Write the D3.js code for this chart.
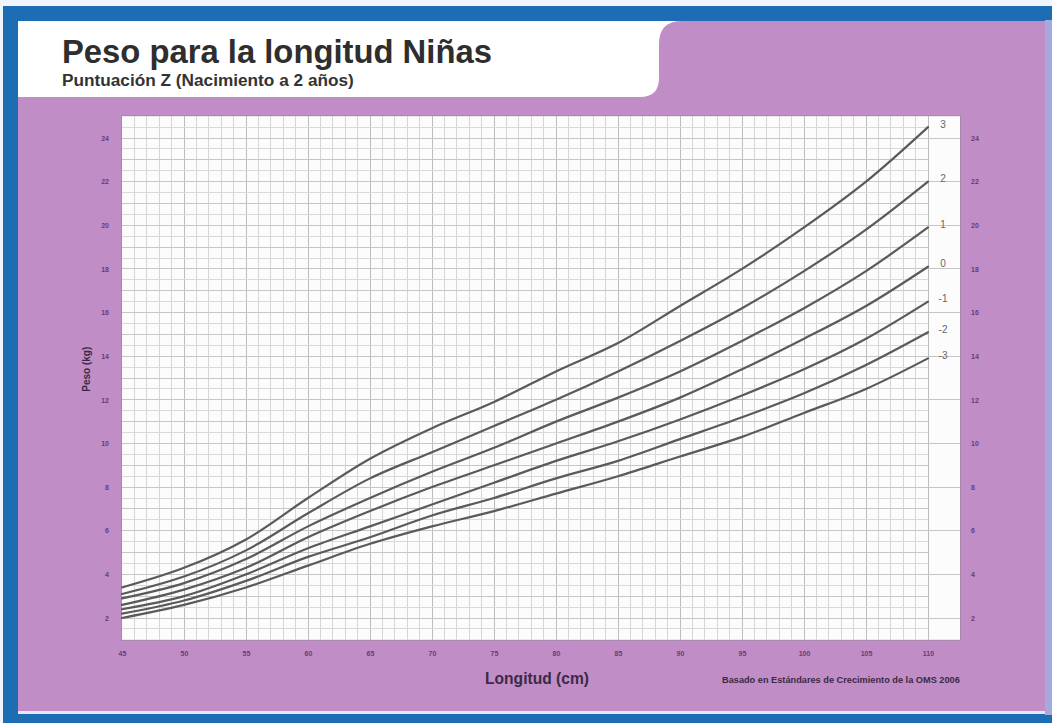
<!DOCTYPE html>
<html lang="es">
<head>
<meta charset="utf-8">
<title>Peso para la longitud Niñas</title>
<script src="https://cdn.jsdelivr.net/npm/d3@7"></script>
<style>
  html, body { margin: 0; padding: 0; background: #ffffff; }
  svg { display: block; }
  text { font-family: "Liberation Sans", Arial, sans-serif; }
</style>
</head>
<body>
<svg id="chart" width="1052" height="723"></svg>
<script>
// Longitud (cm) at which each curve is sampled
const lengths = [45, 50, 55, 60, 65, 70, 75, 80, 85, 90, 95, 100, 105, 110];

// Peso (kg) for each Z-score curve at the lengths above
const zPlus3  = [3.4, 4.3, 5.6, 7.5, 9.3, 10.7, 11.9, 13.3, 14.6, 16.3, 18.0, 19.9, 22.0, 24.5];
const zPlus2  = [3.1, 3.9, 5.1, 6.8, 8.4, 9.6, 10.8, 12.0, 13.3, 14.7, 16.2, 17.9, 19.8, 22.0];
const zPlus1  = [2.9, 3.6, 4.7, 6.2, 7.5, 8.7, 9.8, 11.0, 12.1, 13.3, 14.7, 16.2, 17.9, 19.9];
const zZero   = [2.6, 3.3, 4.3, 5.7, 6.9, 8.0, 9.0, 10.0, 11.0, 12.1, 13.4, 14.8, 16.3, 18.1];
const zMinus1 = [2.4, 3.0, 4.0, 5.2, 6.2, 7.2, 8.2, 9.2, 10.1, 11.1, 12.2, 13.4, 14.8, 16.5];
const zMinus2 = [2.2, 2.8, 3.7, 4.8, 5.7, 6.7, 7.5, 8.4, 9.2, 10.2, 11.2, 12.3, 13.6, 15.1];
const zMinus3 = [2.0, 2.6, 3.4, 4.4, 5.4, 6.2, 6.9, 7.7, 8.5, 9.4, 10.3, 11.4, 12.5, 13.9];

const curveLabels = ["3", "2", "1", "0", "-1", "-2", "-3"];
const curveValues = [zPlus3, zPlus2, zPlus1, zZero, zMinus1, zMinus2, zMinus3];

// Axis tick labels
const xTicks = [45, 50, 55, 60, 65, 70, 75, 80, 85, 90, 95, 100, 105, 110];
const yTicks = [2, 4, 6, 8, 10, 12, 14, 16, 18, 20, 22, 24];

const titleText = "Peso para la longitud Niñas";
const subtitleText = "Puntuación Z (Nacimiento a 2 años)";
const xTitle = "Longitud (cm)";
const yTitle = "Peso (kg)";
const sourceText = "Basado en Estándares de Crecimiento de la OMS 2006";

const W = 1052, H = 723;
const purple = "#c08dc6";
const blue = "#1c6db3";
const tickInk = "#6b3b78";

const svg = d3.select("#chart");

const x = d3.scaleLinear().domain([45, 110]).range([122, 928]);
const y = d3.scaleLinear().domain([2, 24]).range([618, 138]);
const plotRight = 960;

// ---- frame ----
svg.append("rect").attr("x", 0).attr("y", 0).attr("width", W).attr("height", H).attr("fill", "#eef6fb");
svg.append("rect").attr("x", 3).attr("y", 6).attr("width", W - 3).attr("height", H - 6).attr("fill", blue);
svg.append("rect").attr("x", 1045).attr("y", 20).attr("width", 7).attr("height", 695).attr("fill", "#a7a9dc");
svg.append("rect").attr("x", 18).attr("y", 21).attr("width", 1027).attr("height", 692).attr("fill", purple);
svg.append("rect").attr("x", 18).attr("y", 711).attr("width", 1027).attr("height", 3).attr("fill", "#e9e4f3");

// header panel with rounded tab corners
svg.append("path")
  .attr("d", "M18,21 H682 Q659,21 659,44 V78 Q659,97 640,97 H18 Z")
  .attr("fill", "#ffffff");

// ---- titles ----
function fitText(sel, width) {
  const len = sel.node().getComputedTextLength();
  const fs = parseFloat(sel.attr("font-size"));
  sel.attr("font-size", (fs * width / len).toFixed(2));
}
const t1 = svg.append("text").attr("x", 62).attr("y", 63)
  .attr("font-size", 28).attr("font-weight", "bold").attr("fill", "#2e2e2e").text(titleText);
fitText(t1, 430);
const t2 = svg.append("text").attr("x", 62).attr("y", 86)
  .attr("font-size", 12).attr("font-weight", "bold").attr("fill", "#333").text(subtitleText);
fitText(t2, 292);

// ---- plot panel ----
svg.append("rect").attr("x", x(45) - 1).attr("y", y(25) - 1)
  .attr("width", plotRight - x(45) + 2).attr("height", y(1) - y(25) + 2)
  .attr("fill", "#a788a8");
svg.append("rect").attr("x", x(45)).attr("y", y(25))
  .attr("width", plotRight - x(45)).attr("height", y(1) - y(25))
  .attr("fill", "#fdfcfd");

const grid = svg.append("g").attr("shape-rendering", "crispEdges");
// vertical grid, one line per cm
grid.selectAll("line.v").data(d3.range(46, 111))
  .join("line")
  .attr("x1", d => x(d)).attr("x2", d => x(d))
  .attr("y1", y(25)).attr("y2", y(1))
  .attr("stroke", d => d % 5 === 0 ? "#bdbdbd" : "#d6d6d6")
  .attr("stroke-width", 1);
// horizontal grid, one line per 0.5 kg; even kg lines run to the panel edge
grid.selectAll("line.h").data(d3.range(1.5, 25, 0.5))
  .join("line")
  .attr("x1", x(45))
  .attr("x2", d => (d % 2 === 0) ? plotRight : x(110))
  .attr("y1", d => y(d)).attr("y2", d => y(d))
  .attr("stroke", d => d % 1 === 0 ? "#c6c6c6" : "#d9d9d9")
  .attr("stroke-width", 1);

// ---- curves ----
const line = d3.line()
  .x((d, i) => x(lengths[i]))
  .y(d => y(d))
  .curve(d3.curveCatmullRom.alpha(0.5));

svg.append("g").selectAll("path").data(curveValues)
  .join("path")
  .attr("d", d => line(d))
  .attr("fill", "none")
  .attr("stroke", "#5a5a5a")
  .attr("stroke-width", 2.2)
  .attr("stroke-linecap", "round");

svg.append("g").selectAll("text").data(curveValues)
  .join("text")
  .attr("x", x(110) + 15)
  .attr("y", d => y(d[d.length - 1]) - 3)
  .attr("dy", "0.35em")
  .attr("text-anchor", "middle")
  .attr("font-size", 10)
  .attr("fill", "#666")
  .text((d, i) => curveLabels[i]);

// ---- axes ----
function styleAxis(g) {
  g.select(".domain").remove();
  g.selectAll(".tick line").remove();
  g.selectAll("text")
    .attr("font-size", 7)
    .attr("font-weight", "bold")
    .attr("font-family", "'Liberation Sans', Arial, sans-serif")
    .attr("fill", tickInk);
}
svg.append("g").attr("transform", "translate(111,0)")
  .call(d3.axisLeft(y).tickValues(yTicks).tickSize(0).tickPadding(2))
  .call(styleAxis);
svg.append("g").attr("transform", "translate(970,0)")
  .call(d3.axisRight(y).tickValues(yTicks).tickSize(0).tickPadding(1))
  .call(styleAxis);
svg.append("g").attr("transform", `translate(0,${y(1) + 11})`)
  .call(d3.axisBottom(x).tickValues(xTicks).tickSize(0).tickPadding(0))
  .call(styleAxis);

// ---- axis titles and source ----
svg.append("text")
  .attr("transform", `translate(90,${y(13.4)}) rotate(-90)`)
  .attr("text-anchor", "middle")
  .attr("font-size", 10).attr("font-weight", "bold").attr("fill", "#3b2a45")
  .text(yTitle);
const xt = svg.append("text").attr("x", 537).attr("y", 684)
  .attr("text-anchor", "middle")
  .attr("font-size", 13).attr("font-weight", "bold").attr("fill", "#3b2a45")
  .text(xTitle);
fitText(xt, 104);
const src = svg.append("text").attr("x", 722).attr("y", 683)
  .attr("font-size", 6).attr("font-weight", "bold").attr("fill", "#3b2a45")
  .text(sourceText);
fitText(src, 238);
</script>
</body>
</html>
